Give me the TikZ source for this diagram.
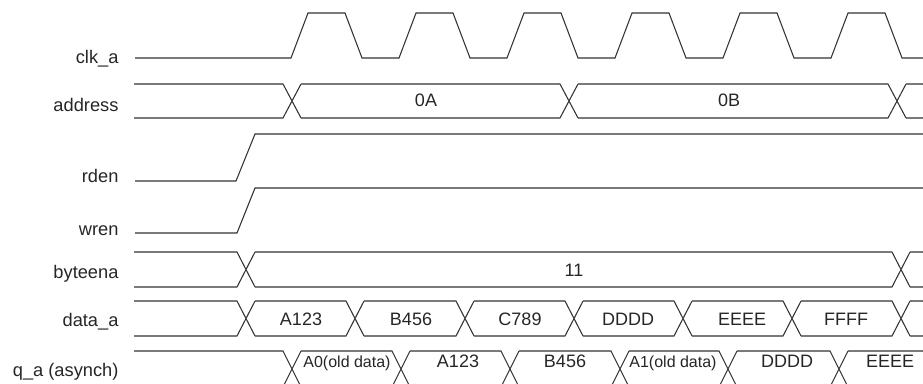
\documentclass[tikz,border=0pt]{standalone}
\usepackage{fontspec}
\setmainfont{Liberation Sans}
% one bus row: top y, bottom y, crossing points
\newcommand\busrow[3]{\foreach \c [remember=\c as \p (initially 125)] in {#3,932}
	\draw (\p+9,#1) -- (\c-9,#1) -- (\c+9,#2) (\p+9,#2) -- (\c-9,#2) -- (\c+9,#1);}

\begin{document}
\begin{tikzpicture}[x=0.75pt, y=-0.75pt, line width=0.8pt, color=black!80, line join=miter,
	every node/.style={inner sep=0pt, text=black!85},
	sig/.style={font=\fontsize{13.7}{16}\selectfont, anchor=base east},
	val/.style={font=\fontsize{13.5}{16}\selectfont, anchor=base},
	old/.style={font=\fontsize{12}{14}\selectfont, anchor=base}]
	\useasboundingbox (0,0) rectangle (923,383);
	\clip (0,0) rectangle (923,383);
	% signal names
	\foreach \n/\y/\t in {clk/63/clk\_a, addr/111/address, rden/182/rden, wren/235/wren, byte/278/byteena, data/326/data\_a, q/376/q\_a (asynch)}
		\node[sig] (lbl-\n) at (119,\y) {\t};
	% clock
	\draw (135,58) foreach \t in {291,399,...,831} { -- (\t,58) -- ++(17,-45) -- ++(37,0) -- ++(17,45) } -- (923,58);
	% enables
	\draw (135,181) -- (236,181) -- (255,134) -- (923,134);
	\draw (135,233) -- (237,233) -- (255,188) -- (923,188);
	% buses
	\busrow{84}{118}{292,569,897}
	\busrow{252}{287}{246,901}
	\busrow{301}{336}{246,355,465,574,683,792,901}
	\busrow{351}{387}{292,401,510,620,728,839}
	% values
	\node[val] (v-0A) at (426,106.5) {0A};
	\node[val] (v-0B) at (729,106.5) {0B};
	\node[val] (v-11) at (574,276.5) {11};
	\foreach \x/\l in {301/A123, 411/B456, 520/C789, 628/DDDD, 742/EEEE, 846/FFFF}
		\node[val] (d-\l) at (\x,325) {\l};
	\node[old] (q-A0) at (347,367) {A0(old data)};
	\node[val] (q-A123) at (458,367.5) {A123};
	\node[val] (q-B456) at (565,367.5) {B456};
	\node[old] (q-A1) at (673,367) {A1(old data)};
	\node[val] (q-DDDD) at (787,367.5) {DDDD};
	\node[val] (q-EEEE) at (890,367.5) {EEEE};
\end{tikzpicture}
\end{document}
